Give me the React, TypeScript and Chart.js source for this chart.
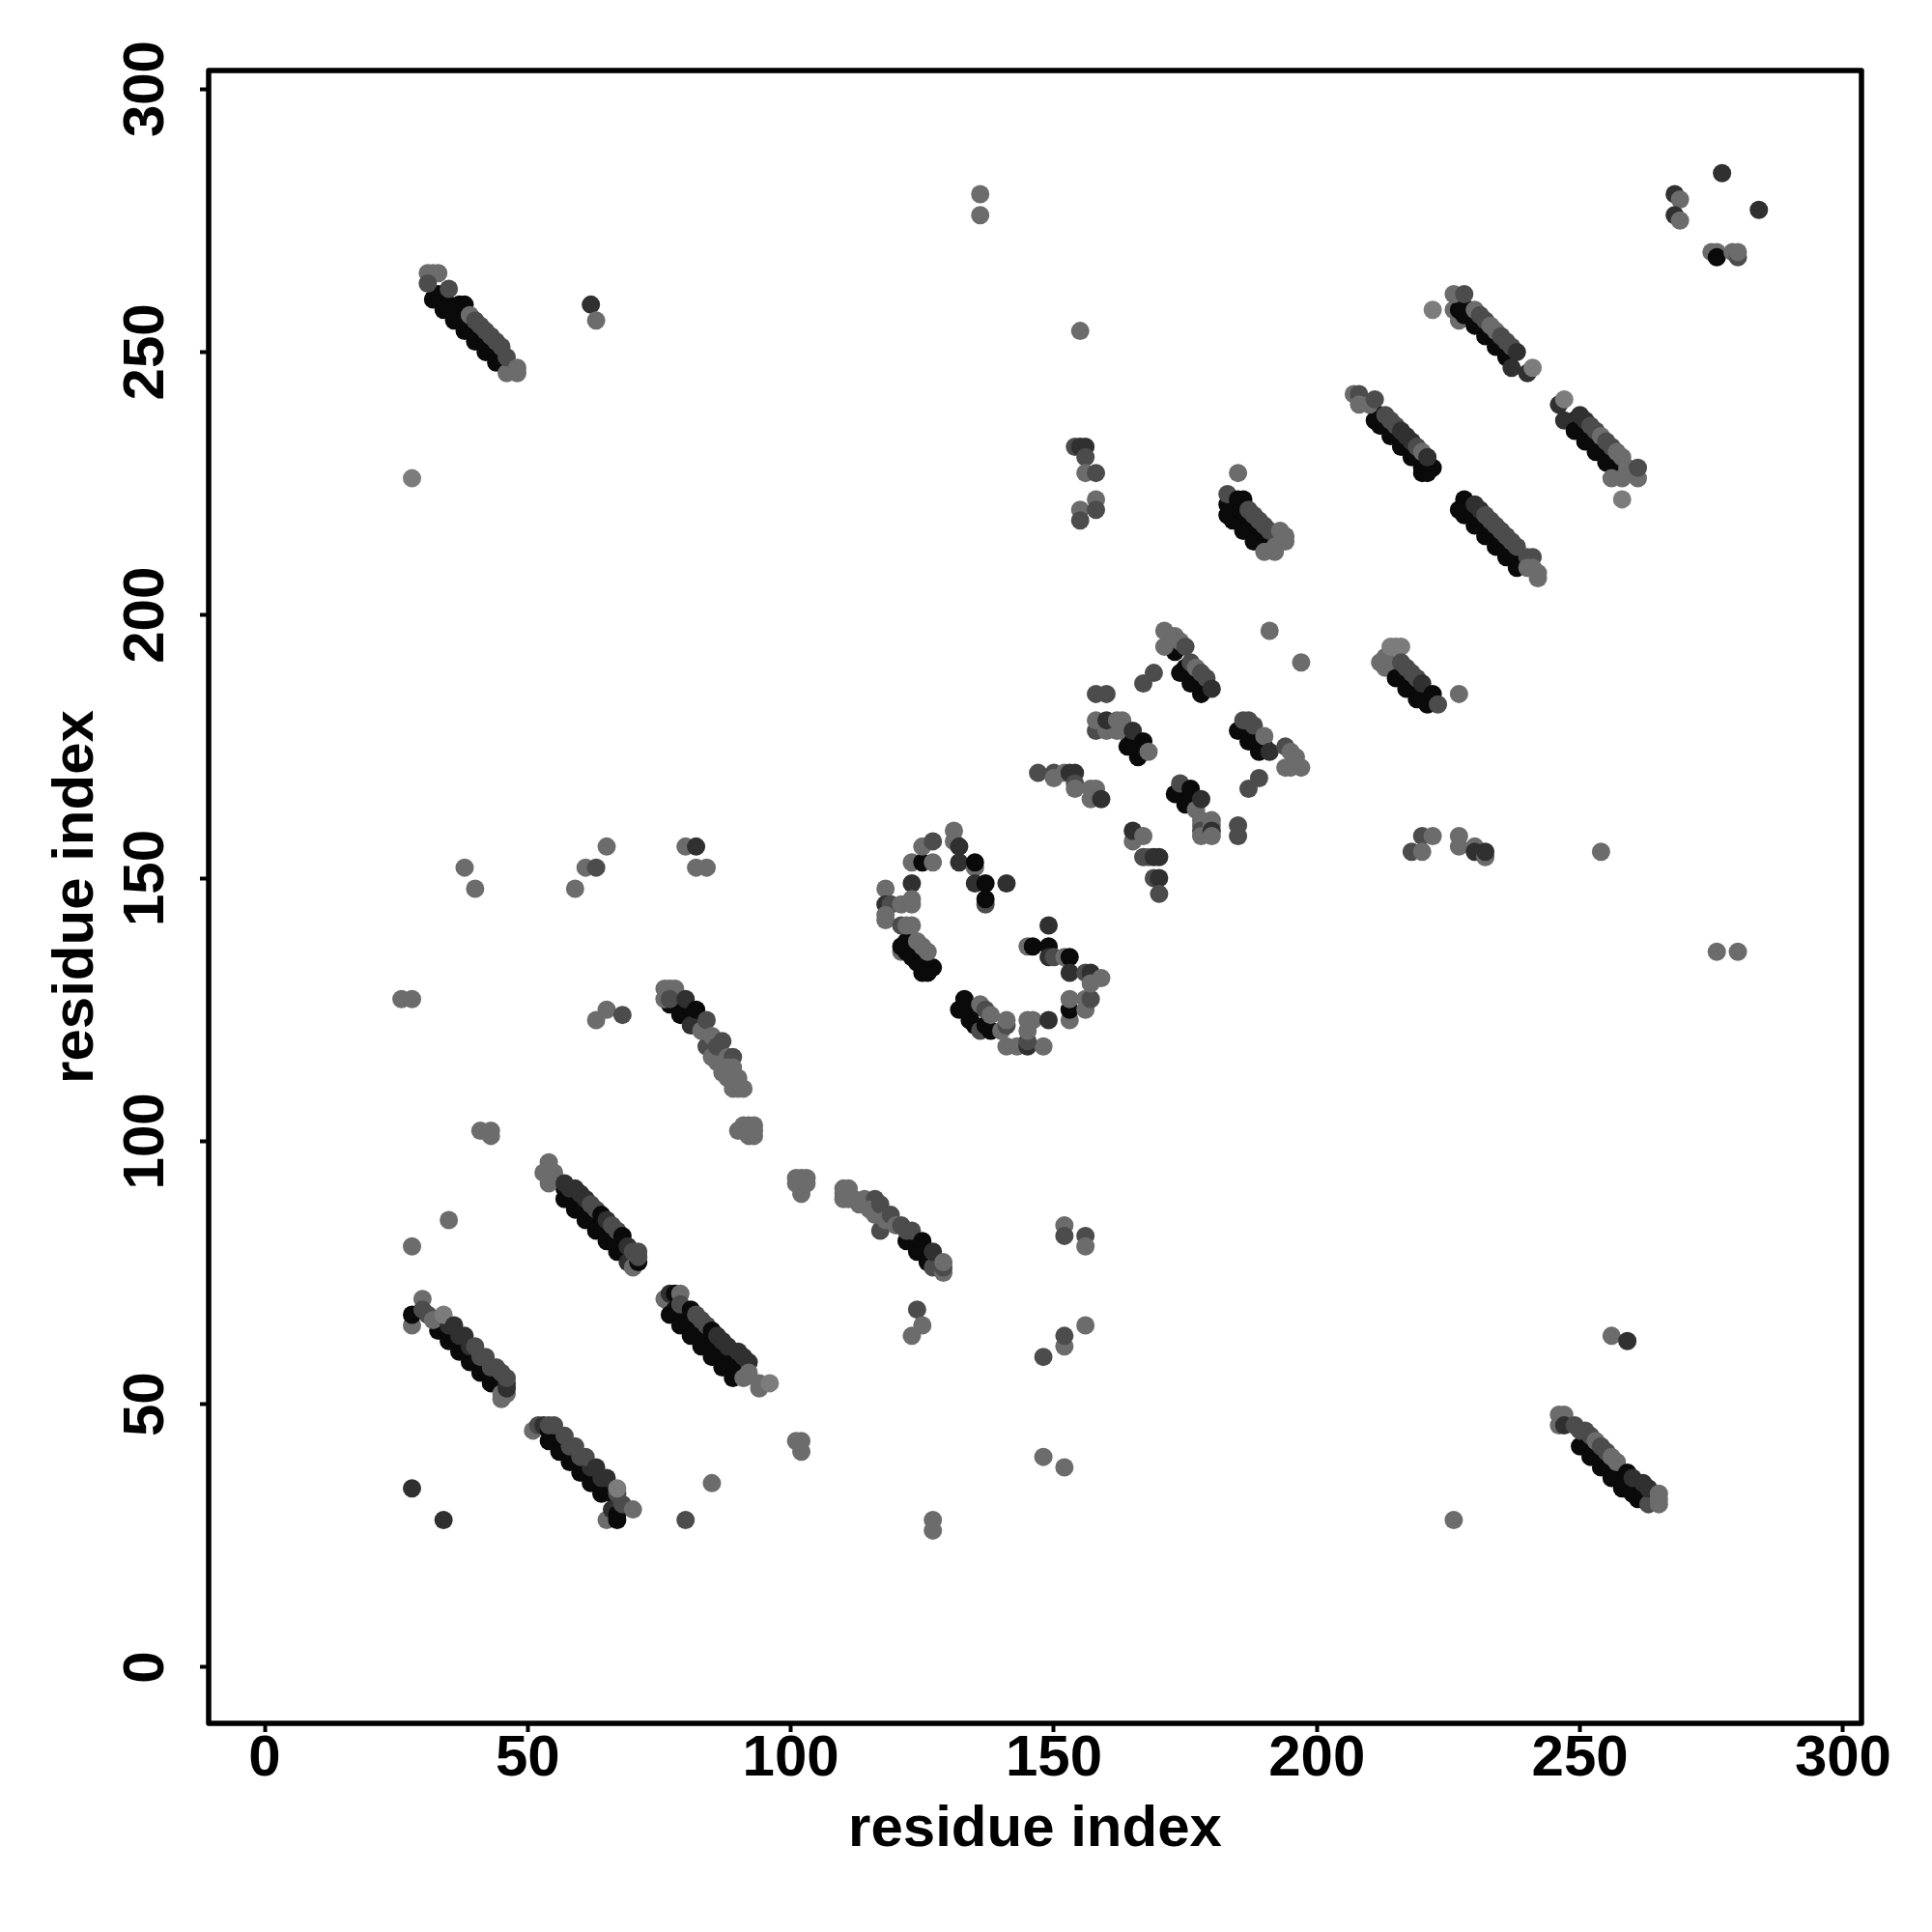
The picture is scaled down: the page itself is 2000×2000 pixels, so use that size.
import React, { useEffect, useRef } from "react";
import { Chart, registerables } from "chart.js";

Chart.register(...registerables);

type Contact = [number, number, number];

const tickValues = [0, 50, 100, 150, 200, 250, 300];
const axisLabel = "residue index";
const scoreGreys = ["#0a0a0a", "#303030", "#4c4c4c", "#6c6c6c", "#7c7c7c"];

const bandLowA: Contact[] = [
  [28,65,3],[33,66,0],[34,65,0],[35,64,0],[36,63,0],[37,62,0],[38,61,0],[39,60,0],[40,59,0],[41,58,0],[42,57,0],[43,56,0],[44,55,0],[45,54,0],
  [33,64,0],[35,62,0],[37,60,0],[39,58,0],[41,56,0],[43,54,0],
  [45,52,3],[45,51,3],[46,52,3],[28,67,0],[30,70,3],[30,68,2],[31,67,2],[32,66,3],
  [35,65,1],[37,63,1],[39,61,1],[41,59,2],[43,57,2],[34,67,4],[36,65,1],[38,63,1],[40,61,2],[42,59,2],[44,57,2],[45,56,2],[46,53,1],[46,54,1],[46,55,2],
];
const bandLowB: Contact[] = [
  [51,45,3],[52,46,2],[53,46,1],[54,45,0],[55,44,0],[56,43,0],[57,42,0],[58,41,0],[59,40,0],[60,39,0],[61,38,0],[62,37,0],[63,36,0],[64,35,0],[65,34,0],[66,33,0],
  [54,43,0],[56,41,0],[58,39,0],[60,37,0],[62,35,0],[64,33,0],[65,28,3],[66,30,1],[67,29,0],[67,28,0],
  [54,46,2],[55,46,2],[58,42,2],[60,40,2],[62,38,1],[64,36,1],[57,44,2],[59,42,2],[61,40,2],[63,38,1],[65,36,1],[68,31,2],[67,33,2],[67,34,4],[70,30,3],
];
const bandLowC: Contact[] = [
  [57,91,0],[58,90,0],[59,89,0],[60,88,0],[61,87,0],[62,86,0],[63,85,0],[64,84,0],[65,83,0],[66,82,0],[67,81,0],[68,80,0],[69,79,0],
  [57,89,0],[59,87,0],[61,85,0],[63,83,0],[65,81,0],[67,79,0],[69,77,1],[70,76,3],[71,77,0],
  [54,96,3],[53,94,3],[54,92,3],[55,94,3],[57,92,1],[58,91,1],[59,91,1],[60,90,1],[61,89,1],[62,88,2],[63,87,2],[64,86,0],[65,85,1],[66,84,2],[67,83,2],[68,82,0],[69,80,1],[70,79,2],[71,79,2],[71,78,2],
];
const bandLowD: Contact[] = [
  [76,70,3],[77,71,1],[78,71,0],[78,68,0],[79,67,0],[80,66,0],[81,65,0],[82,64,0],[83,63,0],[84,62,0],[85,61,0],[86,60,0],[87,59,0],[88,58,0],[89,57,0],[90,56,0],
  [77,67,0],[79,65,0],[81,63,0],[83,61,0],[85,59,0],[87,57,0],[89,55,0],[91,55,3],[94,53,3],
  [79,71,3],[79,69,2],[81,68,0],[82,67,2],[83,66,2],[84,65,2],[85,64,0],[86,63,1],[87,62,1],[88,61,1],[90,60,1],[91,59,1],[92,58,1],[92,56,3],[94,54,3],[96,54,4],
];
const bandMidF: Contact[] = [
  [78,127,0],[79,126,0],[80,125,0],[81,124,0],[82,123,0],[83,122,0],
  [77,126,0],[79,124,0],[81,122,1],[84,118,2],[85,116,3],[86,115,3],[87,113,3],
  [76,129,3],[77,129,3],[78,129,3],[76,127,3],[77,127,2],[80,127,1],[82,125,0],[83,121,3],[84,123,2],[85,120,3],[86,118,2],[87,119,2],[88,116,3],[89,116,2],[88,114,3],[89,114,3],[88,112,3],[90,112,3],[89,110,3],[90,110,3],[91,110,3],
];
const clusterF: Contact[] = [
  [90,102,3],[91,103,3],[92,103,3],[92,101,3],[93,103,3],[93,102,3],[93,101,3],[101,93,3],[102,93,3],[103,93,3],[101,92,3],[102,91,3],[102,90,3],[103,92,3],
];
const bandMidG: Contact[] = [
  [117,83,2],[123,82,0],[124,81,0],[125,80,0],[126,79,0],[127,78,0],[128,77,0],[122,81,0],[124,79,0],[126,77,0],[127,76,2],
  [110,91,3],[111,91,3],[110,90,3],[110,89,3],[111,89,3],[112,89,3],[114,89,3],[113,88,3],[116,89,2],[115,87,3],[116,86,3],[117,88,2],[118,85,3],[119,86,2],[120,84,3],[121,84,2],[122,83,2],[123,83,2],[125,81,0],[127,79,1],[129,75,3],[129,76,2],[129,77,3],
];
const bandTopE: Contact[] = [
  [33,261,0],[34,260,0],[35,259,0],[36,258,0],[37,257,0],[38,256,0],[39,255,0],[40,254,0],[41,253,0],[42,252,0],[43,251,0],[44,250,0],[45,249,0],
  [32,260,0],[34,258,0],[36,256,0],[38,254,0],[40,252,0],[42,250,0],[44,248,0],[46,246,3],
  [31,265,3],[33,265,3],[32,265,3],[31,263,2],[35,262,2],[37,259,0],[38,259,0],[39,257,3],[40,256,2],[41,255,2],[42,254,2],[43,253,2],[44,252,2],[45,251,2],[46,249,2],[48,247,3],[48,246,3],
];
const bandTopN: Contact[] = [
  [183,221,0],[184,220,0],[185,219,0],[186,218,0],[187,217,0],[188,216,0],[189,215,0],[190,214,0],[191,213,0],
  [183,219,0],[184,218,0],[186,216,0],[188,214,0],[190,212,3],[192,212,3],[183,223,2],[185,222,0],[186,222,0],[187,220,2],[188,219,2],[189,218,2],[190,217,2],[191,216,2],[192,213,3],[194,214,3],[194,215,3],[193,216,3],
];
const bandTopI: Contact[] = [
  [212,238,0],[213,237,0],[214,236,0],[215,235,0],[216,234,0],[217,233,0],[218,232,0],[219,231,0],[220,230,0],[221,229,0],
  [211,237,0],[212,236,0],[214,234,0],[216,232,0],[218,230,0],[220,228,0],[220,227,0],[221,227,0],[222,228,0],
  [207,242,3],[208,242,2],[208,240,3],[210,240,3],[211,241,2],[213,238,2],[214,237,2],[215,236,2],[216,235,1],[217,234,1],[218,233,1],[219,232,2],[220,231,3],[221,230,1],
];
const bandTopJ: Contact[] = [
  [229,220,0],[230,219,0],[231,218,0],[232,217,0],[233,216,0],[234,215,0],[235,214,0],[236,213,0],[237,212,0],[238,211,0],[239,210,0],
  [228,222,0],[227,220,0],[228,219,0],[230,217,0],[232,215,0],[234,213,0],[236,211,0],[238,209,0],
  [230,221,1],[231,220,1],[232,219,2],[233,218,2],[234,217,2],[235,216,2],[236,215,2],[237,214,2],[238,213,2],[240,211,2],[241,211,2],[240,209,3],[241,209,3],[242,207,3],[242,208,3],
];
const bandTopK: Contact[] = [
  [229,258,0],[230,257,0],[231,256,0],[232,255,0],[233,254,0],[234,253,0],[235,252,0],[236,251,0],[237,250,0],
  [226,258,3],[227,256,3],[227,258,0],[228,257,0],[230,255,0],[232,253,0],[234,251,0],[236,249,0],[237,247,1],[240,246,1],
  [226,261,3],[228,261,2],[230,258,3],[231,257,2],[232,256,2],[233,255,3],[234,254,3],[235,253,2],[236,252,2],[237,251,2],[238,250,1],[241,247,4],[222,258,4],
];
const bandTopL: Contact[] = [
  [249,237,0],[250,236,0],[251,235,0],[252,234,0],[253,233,0],[254,232,0],[255,231,0],[256,230,0],[257,229,0],[258,228,0],
  [246,240,1],[247,237,1],[249,235,0],[251,233,0],[253,231,0],[255,229,0],[257,227,0],[256,226,3],[258,226,3],
  [247,241,4],[250,238,1],[251,237,1],[252,236,2],[253,235,2],[254,234,3],[255,233,2],[256,232,2],[257,231,3],[258,230,3],[259,228,3],[261,226,3],[261,228,2],[258,222,4],
];
const bandLowM: Contact[] = [
  [251,43,0],[252,42,0],[253,41,0],[254,40,0],[255,39,0],[256,38,0],[257,37,0],[258,36,0],[259,35,0],[260,34,0],[261,33,0],
  [250,42,0],[252,40,0],[254,38,0],[256,36,0],[258,34,0],[260,33,0],[261,32,0],[262,32,0],[263,31,2],
  [246,48,3],[247,48,3],[246,46,3],[247,46,1],[249,46,2],[250,45,2],[251,45,2],[252,44,2],[253,43,3],[254,42,2],[255,41,2],[256,40,3],[257,39,3],[259,37,0],[260,36,1],[262,35,1],[263,34,1],[265,31,3],[265,32,3],[265,33,3],
];
const bandH: Contact[] = [
  [216,189,0],[217,188,0],[218,187,0],[219,186,0],[220,185,0],[221,184,0],
  [212,191,3],[213,190,3],[213,192,3],[215,188,0],[217,186,0],[219,184,0],[221,183,0],
  [214,194,4],[215,194,4],[216,194,4],[216,191,2],[217,190,2],[218,189,2],[219,188,2],[220,187,1],[222,185,0],[223,183,2],[227,185,3],
];
const glyphUpper: Contact[] = [
  [173,193,0],[175,190,0],[176,189,0],[177,188,0],[178,187,0],[179,186,0],[174,189,0],[176,187,0],[178,185,0],[171,197,3],[171,194,3],[173,196,3],[174,195,3],[175,194,2],[176,191,2],[177,190,3],[178,189,2],[179,188,2],[180,186,1],
  [186,179,0],[187,178,0],[188,177,0],[189,176,0],[190,175,0],[185,178,0],[187,176,0],[189,174,0],[186,180,2],[187,180,2],[188,179,2],[190,177,3],[191,174,1],[194,175,2],[195,174,3],[196,173,3],[194,171,3],[195,171,3],[197,171,3],[189,169,2],[187,167,2],
  [174,167,0],[175,166,0],[176,165,0],[173,166,0],[174,168,2],[175,164,0],[176,167,0],[177,163,3],[178,165,1],[178,161,3],[178,160,3],[178,159,2],[178,158,3],[180,161,3],[180,160,3],[180,159,1],[180,158,3],[185,160,2],[185,158,2],
  [167,187,2],[169,189,2],[191,197,3],[197,191,3],
];
const glyphMiddle: Contact[] = [
  [158,185,2],[160,185,2],[158,178,2],[160,178,3],[162,178,3],[163,178,3],[158,180,3],[160,180,1],[162,180,3],[163,180,3],
  [165,176,0],[166,175,0],[167,174,0],[164,175,0],[166,173,0],[165,178,1],[167,176,0],[168,174,3],
  [147,170,2],[150,170,2],[150,169,3],[152,170,3],[153,170,1],[154,170,1],[154,168,2],[154,167,3],[157,167,3],[158,167,3],[157,165,3],[159,165,1],
  [165,157,3],[165,159,1],[167,158,3],[168,154,3],[167,154,2],[169,154,1],[170,154,1],[169,150,2],[170,150,1],[170,147,2],
];
const glyphLower: Contact[] = [
  [118,148,3],[123,149,1],[118,145,1],[119,145,2],[121,145,3],[123,145,3],[123,146,3],[118,143,3],[118,142,3],[121,136,3],[121,137,0],[122,138,0],[122,136,0],[123,135,0],[124,136,0],[124,134,0],[125,132,0],[126,132,0],[127,133,0],[125,134,0],[121,141,2],[122,141,3],[123,141,3],[124,138,3],[125,137,3],[126,136,3],
  [123,153,3],[125,153,0],[127,153,3],[125,156,3],[127,157,2],[131,159,3],[131,157,3],[132,156,1],[132,153,1],[135,152,3],[135,153,0],[135,149,1],[137,149,0],[141,149,1],[137,145,2],[137,146,0],
  [132,125,0],[133,127,0],[133,125,0],[134,124,0],[134,123,0],[135,122,0],[136,121,2],[137,122,0],[138,121,0],[136,126,3],[137,125,2],[138,124,3],[140,121,3],[141,122,2],[141,123,3],[141,118,3],[143,118,3],[145,118,1],[148,118,3],[145,119,2],[145,121,3],[145,123,3],[146,123,3],[149,123,1],
  [153,123,3],[153,125,0],[153,127,3],[156,125,3],[156,127,3],[157,127,2],
  [149,141,1],[145,137,3],[146,137,0],[149,137,0],[149,135,1],[150,135,2],[152,135,3],[153,135,0],[153,132,1],[156,132,2],[157,132,1],[157,130,3],[159,131,3],
];
const isolatedLeft: Contact[] = [
  [28,226,4],[28,80,3],[35,85,3],[38,152,3],[40,148,3],[41,102,3],[43,102,3],[43,101,3],[26,127,3],[28,127,3],[28,34,1],[34,28,1],
  [62,259,1],[63,256,3],[59,148,3],[61,152,3],[63,152,2],[65,156,3],[63,123,3],[65,125,3],[68,124,2],[80,156,3],[82,156,1],[82,152,3],[84,152,3],[80,28,2],[85,35,3],
  [101,43,3],[102,43,3],[102,41,3],[127,28,3],[127,26,3],[124,68,2],[125,65,3],[123,63,3],
];
const isolatedCentre: Contact[] = [
  [136,280,3],[136,276,3],[148,40,3],[152,38,3],[148,59,2],[152,61,3],[152,63,2],[156,65,3],[152,84,3],[152,82,2],[156,82,2],[156,80,3],[155,254,3],
  [154,232,2],[156,232,1],[155,232,1],[156,230,2],[156,227,3],[158,227,2],[158,222,3],[155,220,3],[155,218,2],[158,220,2],
  [185,227,3],
];
const isolatedRight: Contact[] = [
  [220,158,2],[222,158,3],[218,155,2],[220,155,3],[227,158,3],[227,156,3],[230,156,3],[230,155,1],[232,154,3],[232,155,1],[254,155,3],
  [268,280,1],[269,279,3],[268,276,1],[269,275,3],[277,284,1],[284,277,1],[275,269,3],[276,269,3],[276,268,0],[279,269,3],[280,268,2],[280,269,3],
  [276,136,3],[280,136,3],[226,28,3],[256,63,3],[259,62,1],
];

const groups: Contact[][] = [
  bandLowA, bandLowB, bandLowC, bandLowD, bandMidF, clusterF, bandMidG, bandTopE, bandTopN, bandTopI, bandTopJ, bandTopK, bandTopL, bandLowM, bandH,
  glyphUpper, glyphMiddle, glyphLower, isolatedLeft, isolatedCentre, isolatedRight,
];

const FONT = '"Liberation Sans", Arial, sans-serif';

const framePlugin = {
  id: "frame",
  afterDatasetsDraw(chart: Chart) {
    const { ctx, chartArea: a } = chart;
    ctx.save();
    ctx.strokeStyle = "#000";
    ctx.lineWidth = 5.5;
    ctx.lineJoin = "round";
    ctx.strokeRect(a.left, a.top, a.right - a.left, a.bottom - a.top);
    ctx.restore();
  },
};

export default function App() {
  const ref = useRef<HTMLCanvasElement>(null);
  useEffect(() => {
    if (!ref.current) return;
    const grid = { drawOnChartArea: false, drawTicks: true, tickLength: 9, tickWidth: 4, tickColor: "#000", color: "#000" };
    const tickFont = { family: FONT, size: 60, weight: "bold" as const };
    const chart = new Chart(ref.current, {
      type: "scatter",
      data: {
        datasets: groups.map((g) => ({
          data: g.map(([x, y]) => ({ x, y })),
          backgroundColor: g.map((p) => scoreGreys[p[2]]),
          borderWidth: 0,
          pointRadius: 9.5,
          pointHoverRadius: 9.5,
        })),
      },
      options: {
        animation: false,
        responsive: false,
        devicePixelRatio: 1,
        layout: { padding: { top: 73, right: 73, left: 0, bottom: 0 } },
        plugins: { legend: { display: false }, tooltip: { enabled: false } },
        scales: {
          x: {
            type: "linear",
            min: -10.65,
            max: 303.5,
            afterBuildTicks: (s: any) => { s.ticks = tickValues.map((value) => ({ value })); },
            afterFit: (s: any) => { s.height = 216; },
            grid,
            border: { display: false },
            ticks: { color: "#000", font: tickFont, padding: -8, autoSkip: false, maxRotation: 0, minRotation: 0 },
            title: { display: true, text: axisLabel, color: "#000", font: { family: FONT, size: 60, weight: "bold" }, padding: { top: 0, bottom: 70 } },
          },
          y: {
            type: "linear",
            min: -10.65,
            max: 303.5,
            afterBuildTicks: (s: any) => { s.ticks = tickValues.map((value) => ({ value })); },
            afterFit: (s: any) => { s.width = 216; },
            grid,
            border: { display: false },
            ticks: { color: "#000", font: tickFont, padding: 4, autoSkip: false, minRotation: 90, maxRotation: 90, crossAlign: "center" },
            title: { display: true, text: axisLabel, color: "#000", font: { family: FONT, size: 60, weight: "bold" }, padding: { top: 43, bottom: 0 } },
          },
        },
      },
      plugins: [framePlugin],
    } as any);
    return () => chart.destroy();
  }, []);
  return <canvas ref={ref} width={2000} height={2000} style={{ position: "fixed", top: 0, left: 0, display: "block", width: 2000, height: 2000 }} />;
}
